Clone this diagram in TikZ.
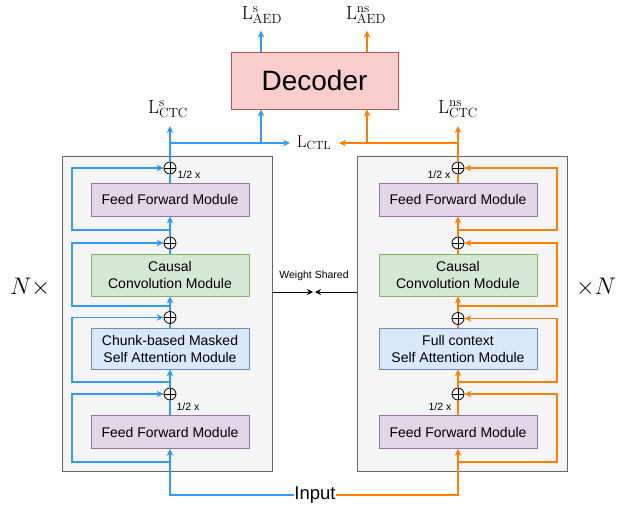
\RequirePackage{fix-cm}
\documentclass[tikz,border=0pt]{standalone}
\usepackage{fontspec}
\newfontfamily\arial{Liberation Sans}
\usetikzlibrary{arrows.meta,calc}
\definecolor{cblue}{RGB}{51,153,255}
\definecolor{corange}{RGB}{255,128,0}
\definecolor{outfill}{HTML}{F5F5F5}
\definecolor{outdraw}{HTML}{666666}
\definecolor{ffnfill}{HTML}{E1D5E7}
\definecolor{ffndraw}{HTML}{9673A6}
\definecolor{convfill}{HTML}{D5E8D4}
\definecolor{convdraw}{HTML}{82B366}
\definecolor{attfill}{HTML}{DAE8FC}
\definecolor{attdraw}{HTML}{6C8EBF}
\definecolor{decfill}{HTML}{F8CECC}
\definecolor{decdraw}{HTML}{B85450}
\tikzset{
  outerbox/.style={draw=outdraw, fill=outfill, line width=0.9pt, minimum width=210pt, minimum height=315pt, inner sep=0},
  modbox/.style={line width=0.8pt, minimum width=158pt, align=center, inner sep=0,
    font=\arial\fontsize{14}{17}\selectfont},
  ffnbox/.style={modbox, fill=ffnfill, draw=ffndraw, minimum height=33pt},
  convbox/.style={modbox, fill=convfill, draw=convdraw, minimum height=42pt},
  attbox/.style={modbox, fill=attfill, draw=attdraw, minimum height=41pt},
  decbox/.style={fill=decfill, draw=decdraw, line width=0.8pt, minimum width=167pt, minimum height=57pt,
    inner sep=0, font=\arial\fontsize{28}{32}\selectfont},
  opl/.style={circle, draw=black, line width=0.8pt, minimum size=12pt, inner sep=0,
    path picture={\draw[line width=0.8pt] (path picture bounding box.north) -- (path picture bounding box.south)
      (path picture bounding box.west) -- (path picture bounding box.east);}},
  bl/.style={draw=cblue, line width=1.2pt},
  orl/.style={draw=corange, line width=1.2pt},
  tip/.style={-{Stealth[length=7pt,width=6.5pt]}},
  half/.style={font=\arial\fontsize{10.5}{12}\selectfont, inner sep=0},
  lab/.style={anchor=base, inner sep=0, font=\fontsize{19}{22}\selectfont},
  nlab/.style={font=\fontsize{24}{26}\selectfont, inner sep=0},
}
\begin{document}
\begin{tikzpicture}[x=1pt,y=-1pt]
\useasboundingbox (0,0) rectangle (631,509);
% outer boxes
\node[outerbox] (boxL) at (167,313.5) {};
\node[outerbox] (boxR) at (462,313.5) {};
% left modules
\node[ffnbox] (ffn1L) at (170,199.5) {Feed Forward Module};
\node[convbox] (convL) at (170,275) {Causal\\Convolution Module};
\node[attbox] (attL) at (170,348.5) {Chunk-based Masked\\Self Attention Module};
\node[ffnbox] (ffn2L) at (170,432) {Feed Forward Module};
% right modules
\node[ffnbox] (ffn1R) at (458,199.5) {Feed Forward Module};
\node[convbox] (convR) at (458,275) {Causal\\Convolution Module};
\node[attbox] (attR) at (458,348.5) {Full context\\Self Attention Module};
\node[ffnbox] (ffn2R) at (458,432) {Feed Forward Module};
% oplus
\node[opl] (op1L) at (170,168) {};
\node[opl] (op2L) at (170,243) {};
\node[opl] (op3L) at (170,317.5) {};
\node[opl] (op4L) at (170,394) {};
\node[opl] (op1R) at (458,168) {};
\node[opl] (op2R) at (458,243) {};
\node[opl] (op3R) at (458,318.5) {};
\node[opl] (op4R) at (458,394) {};
% half labels
\node[half] (h1L) at (189,175) {1/2 x};
\node[half] (h2L) at (188,407) {1/2 x};
\node[half] (h1R) at (439,175) {1/2 x};
\node[half] (h2R) at (440,407) {1/2 x};
% decoder
\node[decbox] (dec) at (314.5,80.5) {Decoder};
% input
\node[font=\arial\fontsize{18.5}{20}\selectfont, inner sep=0] (inp) at (315,495) {Input};
% labels
\node[lab] (lAEDs) at (262,19) {$\mathrm{L}^{\mathrm{s}}_{\mathrm{AED}}$};
\node[lab] (lAEDns) at (366,19) {$\mathrm{L}^{\mathrm{ns}}_{\mathrm{AED}}$};
\node[lab] (lCTCs) at (168,113) {$\mathrm{L}^{\mathrm{s}}_{\mathrm{CTC}}$};
\node[lab] (lCTCns) at (458,113) {$\mathrm{L}^{\mathrm{ns}}_{\mathrm{CTC}}$};
\node[anchor=base, inner sep=0, font=\fontsize{17}{20}\selectfont] (lCTL) at (314,147) {$\mathrm{L}_{\mathrm{CTL}}$};
\node[nlab] (nL) at (30,287) {$N\times$};
\node[nlab] (nR) at (596,287) {$\times N$};
\node[font=\arial\fontsize{10.5}{12}\selectfont, inner sep=0] (ws) at (314,276) {Weight Shared};
\coordinate (wsM) at (314,292);
\draw[line width=0.9pt, -{Stealth[length=6pt,width=6pt]}] (boxL.east |- wsM) -- ([xshift=-1pt]wsM);
\draw[line width=0.9pt, -{Stealth[length=6pt,width=6pt]}] (boxR.west |- wsM) -- ([xshift=1pt]wsM);
% coordinates
\coordinate (jL) at (170,143);
\coordinate (jR) at (458,143);
\coordinate (bL) at (261,143);
\coordinate (bR) at (367,143);
\coordinate (ctlL) at (290,143);
\coordinate (ctlR) at (339,143);
\coordinate (s1L) at (170,230);
\coordinate (s2L) at (170,306);
\coordinate (s3L) at (170,382);
\coordinate (s4L) at (170,462);
\coordinate (s1R) at (458,230);
\coordinate (s2R) at (458,306);
\coordinate (s3R) at (458,382);
\coordinate (s4R) at (458,462);
% ---- left (blue) flow
\draw[bl, tip] (inp.west) -| (ffn2L.south);
\draw[bl] (ffn2L.north) -- (op4L.south);
\draw[bl, tip] (op4L.north) -- (attL.south);
\draw[bl] (attL.north) -- (op3L.south);
\draw[bl, tip] (op3L.north) -- (convL.south);
\draw[bl] (convL.north) -- (op2L.south);
\draw[bl, tip] (op2L.north) -- (ffn1L.south);
\draw[bl] (ffn1L.north) -- (op1L.south);
\draw[bl] (op1L.north) -- (jL);
\draw[bl, tip] (jL) -- ++(0,-17);
\draw[bl, tip] (jL) -- (ctlL);
\draw[bl, tip] (bL) -- (bL |- dec.south);
\draw[bl, tip] (bL |- dec.north) -- ++(0,-21);
\draw[bl, tip] (s1L) -- ++(-98,0) |- (op1L.west);
\draw[bl, tip] (s2L) -- ++(-98,0) |- (op2L.west);
\draw[bl, tip] (s3L) -- ++(-98,0) |- (op3L.west);
\draw[bl, tip] (s4L) -- ++(-98,0) |- (op4L.west);
% ---- right (orange) flow
\draw[orl, tip] (inp.east) -| (ffn2R.south);
\draw[orl] (ffn2R.north) -- (op4R.south);
\draw[orl, tip] (op4R.north) -- (attR.south);
\draw[orl] (attR.north) -- (op3R.south);
\draw[orl, tip] (op3R.north) -- (convR.south);
\draw[orl] (convR.north) -- (op2R.south);
\draw[orl, tip] (op2R.north) -- (ffn1R.south);
\draw[orl] (ffn1R.north) -- (op1R.south);
\draw[orl] (op1R.north) -- (jR);
\draw[orl, tip] (jR) -- ++(0,-17);
\draw[orl, tip] (jR) -- (ctlR);
\draw[orl, tip] (bR) -- (bR |- dec.south);
\draw[orl, tip] (bR |- dec.north) -- ++(0,-21);
\draw[orl, tip] (s1R) -- ++(99,0) |- (op1R.east);
\draw[orl, tip] (s2R) -- ++(99,0) |- (op2R.east);
\draw[orl, tip] (s3R) -- ++(99,0) |- (op3R.east);
\draw[orl, tip] (s4R) -- ++(99,0) |- (op4R.east);
\end{tikzpicture}
\end{document}
